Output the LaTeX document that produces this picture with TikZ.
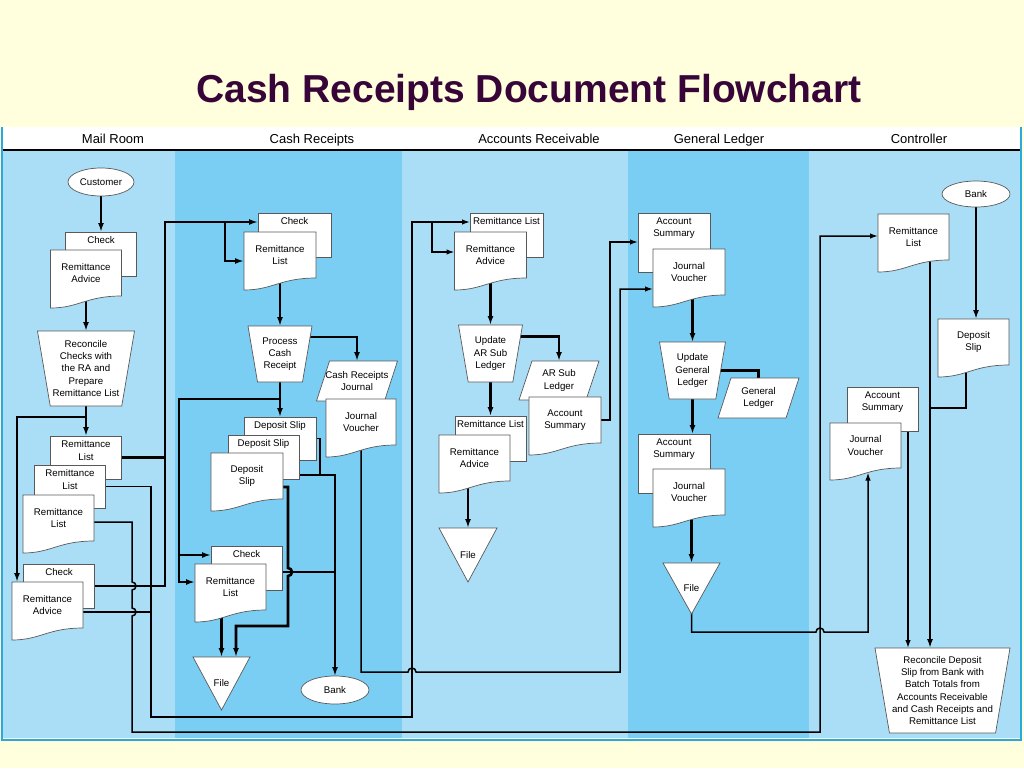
\documentclass[tikz,border=0pt]{standalone}
\usepackage{fontspec}
\setmainfont{Liberation Sans}
\usetikzlibrary{arrows.meta,shapes.geometric}

\definecolor{paleyellow}{RGB}{255,255,222}
\definecolor{lanelight}{RGB}{170,221,246}
\definecolor{lanedark}{RGB}{122,206,243}
\definecolor{framecyan}{RGB}{40,170,225}
\definecolor{titlecol}{RGB}{55,5,55}

\pgfdeclarelayer{lanes}
\pgfdeclarelayer{edges}
\pgfsetlayers{lanes,edges,main}

\makeatletter
% shapes with the anchors of a rectangle but another outline
\def\flowshape#1#2{%
  \pgfdeclareshape{#1}{%
    \inheritsavedanchors[from=rectangle]%
    \inheritanchorborder[from=rectangle]%
    \inheritanchor[from=rectangle]{center}%
    \inheritanchor[from=rectangle]{north}%
    \inheritanchor[from=rectangle]{south}%
    \inheritanchor[from=rectangle]{east}%
    \inheritanchor[from=rectangle]{west}%
    \inheritanchor[from=rectangle]{north east}%
    \inheritanchor[from=rectangle]{north west}%
    \inheritanchor[from=rectangle]{south east}%
    \inheritanchor[from=rectangle]{south west}%
    \backgroundpath{%
      \southwest\edef\fsxa{\the\pgf@x}\edef\fsya{\the\pgf@y}%
      \northeast\edef\fsxb{\the\pgf@x}\edef\fsyb{\the\pgf@y}%
      #2\pgfpathclose}}}
\makeatother

% document with a wavy bottom edge
\flowshape{wavydoc}{%
  \pgfpathmoveto{\pgfpoint{\fsxa}{\fsyb}}%
  \pgfpathlineto{\pgfpoint{\fsxb}{\fsyb}}%
  \pgfpathlineto{\pgfpoint{\fsxb}{\fsya}}%
  \pgfpathcurveto{\pgfpoint{(\fsxa)+0.5*((\fsxb)-(\fsxa))}{\fsya}}%
    {\pgfpoint{(\fsxa)+0.4*((\fsxb)-(\fsxa))}{(\fsya)-12pt}}%
    {\pgfpoint{\fsxa}{(\fsya)-12pt}}}
% manual process: wide top, narrow bottom
\flowshape{procbox}{%
  \pgfpathmoveto{\pgfpoint{\fsxa}{\fsyb}}%
  \pgfpathlineto{\pgfpoint{\fsxb}{\fsyb}}%
  \pgfpathlineto{\pgfpoint{(\fsxb)-0.17*((\fsyb)-(\fsya))}{\fsya}}%
  \pgfpathlineto{\pgfpoint{(\fsxa)+0.17*((\fsyb)-(\fsya))}{\fsya}}}
% journal / ledger
\flowshape{ledgerbox}{%
  \pgfpathmoveto{\pgfpoint{(\fsxa)+13pt}{\fsyb}}%
  \pgfpathlineto{\pgfpoint{\fsxb}{\fsyb}}%
  \pgfpathlineto{\pgfpoint{(\fsxb)-13pt}{\fsya}}%
  \pgfpathlineto{\pgfpoint{\fsxa}{\fsya}}}
% off-line file
\flowshape{filebox}{%
  \pgfpathmoveto{\pgfpoint{\fsxa}{\fsyb}}%
  \pgfpathlineto{\pgfpoint{\fsxb}{\fsyb}}%
  \pgfpathlineto{\pgfpoint{0.5*(\fsxa)+0.5*(\fsxb)}{\fsya}}}

\tikzset{
  doctext/.style={font=\fontsize{9.7}{12.3}\selectfont, align=center},
  sheet/.style={draw=black!65, fill=white, line width=.7pt, outer sep=0pt, inner sep=1pt, doctext},
  wavy/.style={sheet, shape=wavydoc, minimum width=71pt, minimum height=46pt},
  backdoc/.style={sheet, shape=rectangle, minimum width=71pt, minimum height=44pt},
  backlab/.style={doctext, anchor=north, inner xsep=0pt, inner ysep=4.5pt},
  process/.style={sheet, shape=procbox},
  ledger/.style={sheet, shape=ledgerbox, minimum height=40pt},
  filetri/.style={sheet, shape=filebox, minimum width=57pt, minimum height=53pt},
  terminal/.style={sheet, ellipse, minimum width=66pt, minimum height=28pt, inner sep=0pt},
  flowarrow/.style={line width=2.6pt, -{Latex[length=9pt,width=6pt]}},
  heavyline/.style={line width=2.6pt},
  lightline/.style={line width=1.5pt},
  lightflow/.style={line width=1.5pt, -{Latex[length=8pt,width=5.5pt]}},
  lanehead/.style={font=\fontsize{13}{15}\selectfont, anchor=base}
}

\begin{document}
\begin{tikzpicture}[x=1pt,y=-1pt]
\useasboundingbox (0,0) rectangle (1024,768);

\begin{pgfonlayer}{lanes}
\fill[paleyellow] (0,0) rectangle (1024,768);
\foreach \xa/\xb/\lc in {2/175/lanelight,175/402/lanedark,402/628/lanelight,628/809/lanedark,809/1021/lanelight}
  \fill[\lc] (\xa,150) rectangle (\xb,738);
\fill[white] (2,127) rectangle (1021,150);
\draw[line width=2pt] (2,150) -- (1021,150);
\draw[framecyan, line width=1.2pt] (2,127) -- (2,741) (1021,127) -- (1021,741);
\draw[framecyan, line width=2.5pt] (1,740) -- (1022,740);
\end{pgfonlayer}

\node[font=\bfseries\fontsize{39}{44}\selectfont, text=titlecol, anchor=base] (title) at (529,102) {Cash Receipts Document Flowchart};
\foreach \x/\t/\n in {113/Mail Room/hmail,312/Cash Receipts/hcash,539/Accounts Receivable/hacc,719/General Ledger/hgl,919/Controller/hctl}
  \node[lanehead] (\n) at (\x,143) {\t};

% mail room
\node[terminal] (cust) at (101,182) {Customer};
\node[backdoc, label={[backlab]north:Check}] (mchk1) at (101,254) {};
\node[wavy] (mra1) at (86,273) {Remittance\\Advice};
\node[process, minimum width=97pt, minimum height=75pt] (mrec) at (86,368.5) {Reconcile\\Checks with\\the RA and\\Prepare\\Remittance List};
\node[backdoc, minimum height=43pt, label={[backlab]north:{Remittance\\List}}] (mrl1) at (86,457.5) {};
\node[backdoc, minimum height=43pt, label={[backlab]north:{Remittance\\List}}] (mrl2) at (70,486.5) {};
\node[wavy] (mrl3) at (58.5,518) {Remittance\\List};
\node[backdoc, label={[backlab]north:Check}] (mchk2) at (59,586) {};
\node[wavy] (mra2) at (47.5,605) {Remittance\\Advice};

% cash receipts
\node[backdoc, minimum width=73pt, label={[backlab]north:Check}] (cchk) at (294.5,235) {};
\node[wavy, minimum width=72pt] (crl1) at (280,255) {Remittance\\List};
\node[process, minimum width=64pt, minimum height=56pt] (cproc) at (280,354) {Process\\Cash\\Receipt};
\node[ledger, minimum width=81pt] (cjour) at (357,381) {Cash Receipts\\Journal};
\node[wavy, minimum width=70pt] (cjv) at (361,422) {Journal\\Voucher};
\node[backdoc, minimum width=72pt, minimum height=43pt, label={[backlab]north:Deposit Slip}] (cds1) at (280,438.5) {};
\node[backdoc, label={[backlab]north:Deposit Slip}] (cds2) at (263.5,457) {};
\node[wavy, minimum width=72pt] (cds3) at (247,476) {Deposit\\Slip};
\node[backdoc, label={[backlab]north:Check}] (cchk2) at (246.5,568) {};
\node[wavy] (crl2) at (230.5,587) {Remittance\\List};
\node[filetri] (cfile) at (221.5,683.5) {File};
\node[terminal, minimum width=68pt] (cbank) at (335,690) {Bank};

% accounts receivable
\node[backdoc, minimum width=73pt, label={[backlab]north:Remittance List}] (arl1) at (506.5,235) {};
\node[wavy, minimum width=72pt] (ara1) at (490.5,255) {Remittance\\Advice};
\node[process, minimum width=64pt, minimum height=57pt] (aupd) at (490.5,353.5) {Update\\AR Sub\\Ledger};
\node[ledger, minimum width=80pt, minimum height=39pt] (asub) at (559,380.5) {AR Sub\\Ledger};
\node[wavy, minimum width=72pt] (asum) at (565,420) {Account\\Summary};
\node[backdoc, minimum height=45pt, label={[backlab]north:Remittance List}] (arl2) at (490.5,438.5) {};
\node[wavy] (ara2) at (474.5,458) {Remittance\\Advice};
\node[filetri, minimum width=58pt, minimum height=54pt] (afile) at (468,555) {File};

% general ledger
\node[backdoc, minimum width=72pt, minimum height=59pt, label={[backlab]north:{Account\\Summary}}] (gsum1) at (674,242.5) {};
\node[wavy, minimum width=72pt] (gjv1) at (689,272) {Journal\\Voucher};
\node[process, minimum width=66pt, minimum height=57pt] (gupd) at (692.5,370.5) {Update\\General\\Ledger};
\node[ledger, minimum width=81pt] (gled) at (758.5,398) {General\\Ledger};
\node[backdoc, minimum width=72pt, minimum height=59pt, label={[backlab]north:{Account\\Summary}}] (gsum2) at (674,463.5) {};
\node[wavy, minimum width=72pt] (gjv2) at (689,492) {Journal\\Voucher};
\node[filetri, minimum height=51pt] (gfile) at (691.5,588.5) {File};

% controller
\node[terminal, minimum width=68pt, minimum height=26pt] (kbank) at (976,194) {Bank};
\node[wavy] (krl) at (913.5,237) {Remittance\\List};
\node[wavy] (kds) at (973.5,342) {Deposit\\Slip};
\node[backdoc, label={[backlab]north:{Account\\Summary}}] (ksum) at (882.5,409) {};
\node[wavy, minimum height=45pt] (kjv) at (865.5,445.5) {Journal\\Voucher};
\node[process, minimum width=135pt, minimum height=85pt] (krec) at (942.5,690.5) {Reconcile Deposit\\Slip from Bank with\\Batch Totals from\\Accounts Receivable\\and Cash Receipts and\\Remittance List};

\begin{pgfonlayer}{edges}
% mail room
\draw[flowarrow] (cust) -- (mchk1);
\draw[flowarrow] (mra1) -- (mrec);
\draw[flowarrow] (mrec) -- (mrl1);
\draw[flowarrow] (mrec) |- (17,417) -- (mra2.north -| 17,0);
\coordinate (mtrunk) at (165,222);
\coordinate (csplit) at (225,222);
\draw[flowarrow] (mrl1) -| (mtrunk) -- (cchk.west |- mtrunk);
\draw[heavyline] (mchk2) -| (165,457);
\draw[flowarrow] (csplit) |- ([yshift=-6pt]crl1.west);
\coordinate (asplit) at (432,222);
\draw[lightflow] (mrl2) -| (151,717) -| (412,222) -- (arl1.west |- 0,222);
\draw[lightflow] (asplit) |- ([yshift=3pt]ara1.west);
\draw[lightline] ([yshift=-7pt]mra2.east) -- (151,612);
\draw[lightflow] ([yshift=-4pt]mrl3.east) -- (132,522) -- (132,582)
  arc[start angle=90,end angle=-90,radius=4pt] -- (132,608)
  arc[start angle=90,end angle=-90,radius=4pt] -- (132,732) -- (820,732) -- (820,236) -- (krl.west |- 0,236);

% cash receipts
\draw[flowarrow] (crl1) -- (cproc);
\draw[flowarrow] ([yshift=17pt]cproc.center) -| (cjour);
\draw[flowarrow] (cproc) -- (cds1);
\coordinate (cbr) at (280,399);
\coordinate (cbr2) at (179,555);
\draw[flowarrow] (cbr) -| (cbr2) -- (cchk2.west |- cbr2);
\draw[flowarrow] (cbr2) |- ([yshift=5pt]crl2.west);
\draw[lightline] (cds1) -| (320,475);
\draw[flowarrow] ([yshift=-18pt]cds2.east) -| (cbank);
\draw[heavyline] ([yshift=-4pt]cchk2.east) -- (cbank |- 0,572);
\draw[flowarrow] ([yshift=-11pt]cds3.east) -- (288,487) -- (288,568)
  arc[start angle=90,end angle=-90,radius=4pt] -- (288,626) -| ([xshift=14.5pt]cfile.north);
\draw[flowarrow] (cfile |- crl2.center) -- (cfile);
\draw[lightflow] (cjv) |- (408,672) arc[start angle=180,end angle=0,radius=4pt]
  -- (620,672) |- ([yshift=-17pt]gjv1.west);

% accounts receivable
\draw[flowarrow] (ara1) -- (aupd);
\draw[flowarrow] ([yshift=17pt]aupd.center) -| (asub);
\draw[flowarrow] (aupd) -- (arl2);
\draw[flowarrow] (afile |- ara2.center) -- (afile);
\draw[lightflow] (asum) -| (610,242) -- (gsum1.west |- 0,242);

% general ledger
\draw[flowarrow] (gupd |- gjv1.center) -- (gupd);
\draw[heavyline] (gupd.center) -| (gled);
\draw[flowarrow] (gupd) -- (gupd |- gsum2.north);
\draw[flowarrow] (gfile |- gjv2.center) -- (gfile);
\draw[lightflow] (gfile.center) -- (gfile.center |- 0,632) -- (816,632)
  arc[start angle=180,end angle=0,radius=4pt] -- (868,632) -- ([xshift=2.5pt,yshift=-4.5pt]kjv.south);

% controller
\draw[flowarrow] (kbank) -- (kbank |- kds.north);
\draw[flowarrow] (krl.center -| 930,0) -- (krec.north -| 930,0);
\draw[heavyline] (kds.center -| 966,0) |- (930,408);
\draw[lightflow] (ksum.center -| 908,0) -- (krec.north -| 908,0);
\end{pgfonlayer}
\end{tikzpicture}
\end{document}
